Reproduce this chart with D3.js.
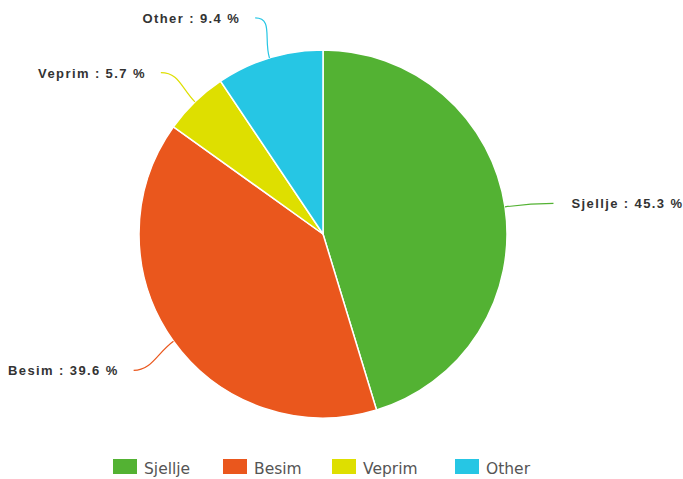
<!DOCTYPE html>
<html lang="en">
<head>
    <meta charset="UTF-8">
    <title>Pie</title>
    <script src="https://cdn.jsdelivr.net/npm/d3@7/dist/d3.min.js"></script>
    <style>
        body { margin: 0; background: #fff; }
    </style>
</head>
<body>
<svg id="chart" width="683" height="479"></svg>

<script>
    /* global d3*/

    var categories = ["Sjellje", "Besim", "Veprim", "Other"];
    var values = [45.3, 39.6, 5.7, 9.4];
    var colors = ["#53b233", "#ea571d", "#dedf00", "#26c6e4"];

    var svg = d3.select("#chart"),
        cx = 323,
        cy = 234,
        r = 184,
        color = d3.scaleOrdinal().domain(categories).range(colors);

    var data = categories.map(function (c, i) {
        return {name: c, value: values[i]};
    });

    var pie = d3.pie()
        .sort(null)
        .value(function (d) { return d.value; });

    var arc = d3.arc().innerRadius(0).outerRadius(r);

    var g = svg.append("g").attr("transform", "translate(" + cx + "," + cy + ")");
    var arcs = pie(data);

    g.selectAll("path.slice")
        .data(arcs)
        .enter().append("path")
        .attr("class", "slice")
        .attr("d", arc)
        .attr("fill", function (d) { return color(d.data.name); })
        .attr("stroke", "#fff")
        .attr("stroke-width", 1.5);

    // leader lines + labels
    function pt(a, rad) {
        return [Math.sin(a) * rad, -Math.cos(a) * rad];
    }

    arcs.forEach(function (d) {
        var mid = (d.startAngle + d.endAngle) / 2;
        var right = Math.sin(mid) > 0;
        var p0 = pt(mid, r);
        var p1 = pt(mid, r + 20);
        var end = [pt(mid, r + 49)[0], pt(mid, r + 45)[1] + 3];
        var c2 = [end[0] + (right ? -18 : 18), end[1]];
        var path = d3.path();
        path.moveTo(p0[0], p0[1]);
        path.bezierCurveTo(p1[0], p1[1], c2[0], c2[1], end[0], end[1]);

        g.append("path")
            .attr("d", path.toString())
            .attr("fill", "none")
            .attr("stroke", color(d.data.name))
            .attr("stroke-width", 1.2);

        g.append("text")
            .attr("x", end[0] + (right ? 18 : -15))
            .attr("y", end[1] + 5)
            .attr("text-anchor", right ? "start" : "end")
            .style("font-family", "'Liberation Sans', Arial, sans-serif")
            .style("font-weight", "bold")
            .style("font-size", "13px")
            .style("letter-spacing", "1.4px")
            .style("fill", "#333")
            .text(d.data.name + " : " + d.data.value.toFixed(1) + " %");
    });

    // legend
    var legendX = [113, 223, 332, 455];
    var legend = svg.append("g");
    categories.forEach(function (c, i) {
        legend.append("rect")
            .attr("x", legendX[i])
            .attr("y", 459)
            .attr("width", 24)
            .attr("height", 15)
            .attr("fill", color(c));
        legend.append("text")
            .attr("x", legendX[i] + 31)
            .attr("y", 474)
            .style("font-family", "'DejaVu Sans', sans-serif")
            .style("font-size", "15.5px")
            .style("fill", "#555")
            .text(c);
    });
</script>
</body>
</html>
